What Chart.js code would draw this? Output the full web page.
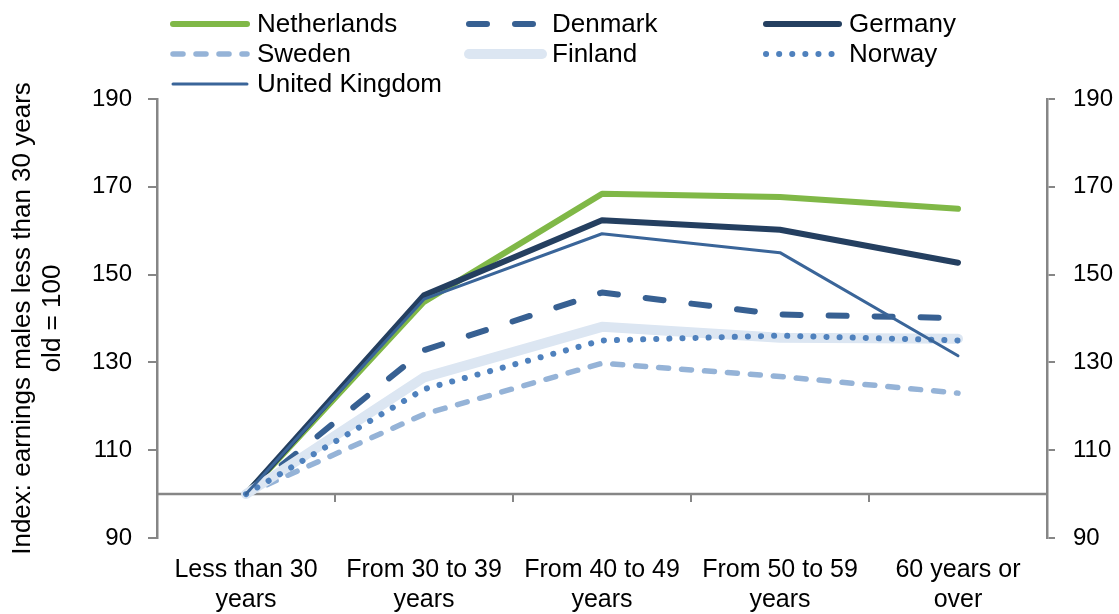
<!DOCTYPE html>
<html>
<head>
<meta charset="utf-8">
<script src="https://cdn.jsdelivr.net/npm/chart.js@4/dist/chart.umd.min.js"></script>
<style>
  html, body { margin: 0; padding: 0; background: #fff; }
  #wrap { width: 1119px; height: 614px; position: relative; }
</style>
</head>
<body>
<div id="wrap"><canvas id="c" width="1119" height="614"></canvas></div>
<script>
// ---- data ----
const categories = [
  ["Less than 30", "years"],
  ["From 30 to 39", "years"],
  ["From 40 to 49", "years"],
  ["From 50 to 59", "years"],
  ["60 years or", "over"]
];
const seriesNames = ["Netherlands", "Denmark", "Germany", "Sweden", "Finland", "Norway", "United Kingdom"];
const netherlands = [100, 143.8, 168.4, 167.7, 165.0];
const denmark     = [100, 132.8, 145.9, 140.9, 140.1];
const germany     = [100, 145.3, 162.4, 160.2, 152.7];
const sweden      = [100, 118.2, 129.8, 126.8, 123.0];
const finland     = [100, 126.6, 138.1, 135.6, 135.4];
const norway      = [100, 123.9, 135.0, 136.1, 135.0];
const unitedKingdom = [100, 144.4, 159.3, 155.0, 131.5];
const yTicks = [90, 110, 130, 150, 170, 190];
const baseValue = 100;

const FONT = "'Liberation Sans', Arial, sans-serif";
const AXIS_GRAY = '#868686';

const styles = [
  { color: '#80B847', width: 6,   dash: [],        cap: 'round' },
  { color: '#376092', width: 6,   dash: [18, 28],  cap: 'round' },
  { color: '#243F60', width: 6,   dash: [],        cap: 'round' },
  { color: '#95B3D7', width: 5.5, dash: [10, 13],  cap: 'round' },
  { color: '#DCE6F2', width: 10,  dash: [],        cap: 'round' },
  { color: '#4F81BD', width: 6,   dash: [0.1, 13], cap: 'round' },
  { color: '#3A6599', width: 3,   dash: [],        cap: 'round' }
];
const seriesData = [netherlands, denmark, germany, sweden, finland, norway, unitedKingdom];

const datasets = seriesNames.map((name, i) => ({
  label: name,
  data: seriesData[i],
  borderColor: styles[i].color,
  backgroundColor: styles[i].color,
  borderWidth: styles[i].width,
  borderDash: styles[i].dash,
  borderCapStyle: styles[i].cap,
  borderJoinStyle: 'round',
  pointRadius: 0,
  pointHoverRadius: 0,
  tension: 0,
  fill: false,
  order: seriesNames.length - i,
  yAxisID: 'y'
}));

// horizontal axis line at value 100 with downward tick marks at category boundaries
const baseLinePlugin = {
  id: 'baseLine',
  beforeDatasetsDraw(chart) {
    const { ctx, chartArea, scales } = chart;
    const y = Math.round(scales.y.getPixelForValue(baseValue));
    ctx.save();
    ctx.strokeStyle = AXIS_GRAY;
    ctx.lineWidth = 2.5;
    ctx.beginPath();
    ctx.moveTo(chartArea.left, y);
    ctx.lineTo(chartArea.right, y);
    ctx.stroke();
    ctx.lineWidth = 2;
    const xs = scales.x;
    const n = categories.length;
    for (let i = 0; i < n - 1; i++) {
      const bx = Math.round((xs.getPixelForValue(i) + xs.getPixelForValue(i + 1)) / 2);
      ctx.beginPath();
      ctx.moveTo(bx, y);
      ctx.lineTo(bx, y + 8);
      ctx.stroke();
    }
    ctx.restore();
  }
};

// custom 3-column legend
const legendPlugin = {
  id: 'gridLegend',
  afterDraw(chart, args, opts) {
    const { ctx } = chart;
    ctx.save();
    ctx.font = '26px ' + FONT;
    ctx.textBaseline = 'middle';
    ctx.fillStyle = '#000';
    chart.data.datasets.forEach((ds, i) => {
      const col = i % 3, row = Math.floor(i / 3);
      const c = opts.columns[col];
      const y = opts.rows[row];
      ctx.save();
      ctx.strokeStyle = ds.borderColor;
      ctx.lineWidth = ds.borderWidth;
      ctx.lineCap = ds.borderCapStyle;
      ctx.setLineDash(ds.borderDash || []);
      ctx.beginPath();
      ctx.moveTo(c.x0, y);
      ctx.lineTo(c.x1, y);
      ctx.stroke();
      ctx.restore();
      ctx.fillText(ds.label, c.tx, y + 1);
    });
    ctx.restore();
  }
};

new Chart(document.getElementById('c'), {
  type: 'line',
  data: { labels: categories, datasets },
  plugins: [baseLinePlugin, legendPlugin],
  options: {
    responsive: false,
    animation: false,
    devicePixelRatio: 1,
    layout: { padding: { top: 99, left: 0, right: 0, bottom: 0 } },
    plugins: {
      legend: { display: false },
      tooltip: { enabled: false },
      gridLegend: {
        columns: [
          { x0: 173, x1: 247, tx: 257 },
          { x0: 469, x1: 542, tx: 552 },
          { x0: 766, x1: 839, tx: 849 }
        ],
        rows: [24, 54, 84]
      }
    },
    scales: {
      x: {
        type: 'category',
        offset: true,
        grid: { display: false, drawTicks: false },
        border: { display: false },
        ticks: {
          color: '#000',
          font: { family: FONT, size: 25, lineHeight: 1.2 },
          padding: 17,
          maxRotation: 0,
          autoSkip: false
        },
        afterFit(scale) { scale.height = 76; }
      },
      y: {
        position: 'left',
        min: 90, max: 190,
        afterBuildTicks(scale) { scale.ticks = yTicks.map(v => ({ value: v })); },
        grid: { drawOnChartArea: false, drawTicks: true, tickLength: 9, color: AXIS_GRAY, lineWidth: 2 },
        border: { display: true, color: AXIS_GRAY, width: 2.5 },
        ticks: { color: '#000', font: { family: FONT, size: 24 }, padding: 16 },
        title: {
          display: true,
          text: ['Index: earnings males less than 30 years', 'old = 100'],
          color: '#000',
          font: { family: FONT, size: 26, lineHeight: 1.15 },
          padding: { top: 8, bottom: 0 }
        },
        afterFit(scale) { scale.width = 157; }
      },
      y2: {
        position: 'right',
        min: 90, max: 190,
        afterBuildTicks(scale) { scale.ticks = yTicks.map(v => ({ value: v })); },
        grid: { drawOnChartArea: false, drawTicks: true, tickLength: 8, color: AXIS_GRAY, lineWidth: 2 },
        border: { display: true, color: AXIS_GRAY, width: 2.5 },
        ticks: { color: '#000', font: { family: FONT, size: 24 }, padding: 18 },
        afterFit(scale) { scale.width = 72; }
      }
    }
  }
});
</script>
</body>
</html>
